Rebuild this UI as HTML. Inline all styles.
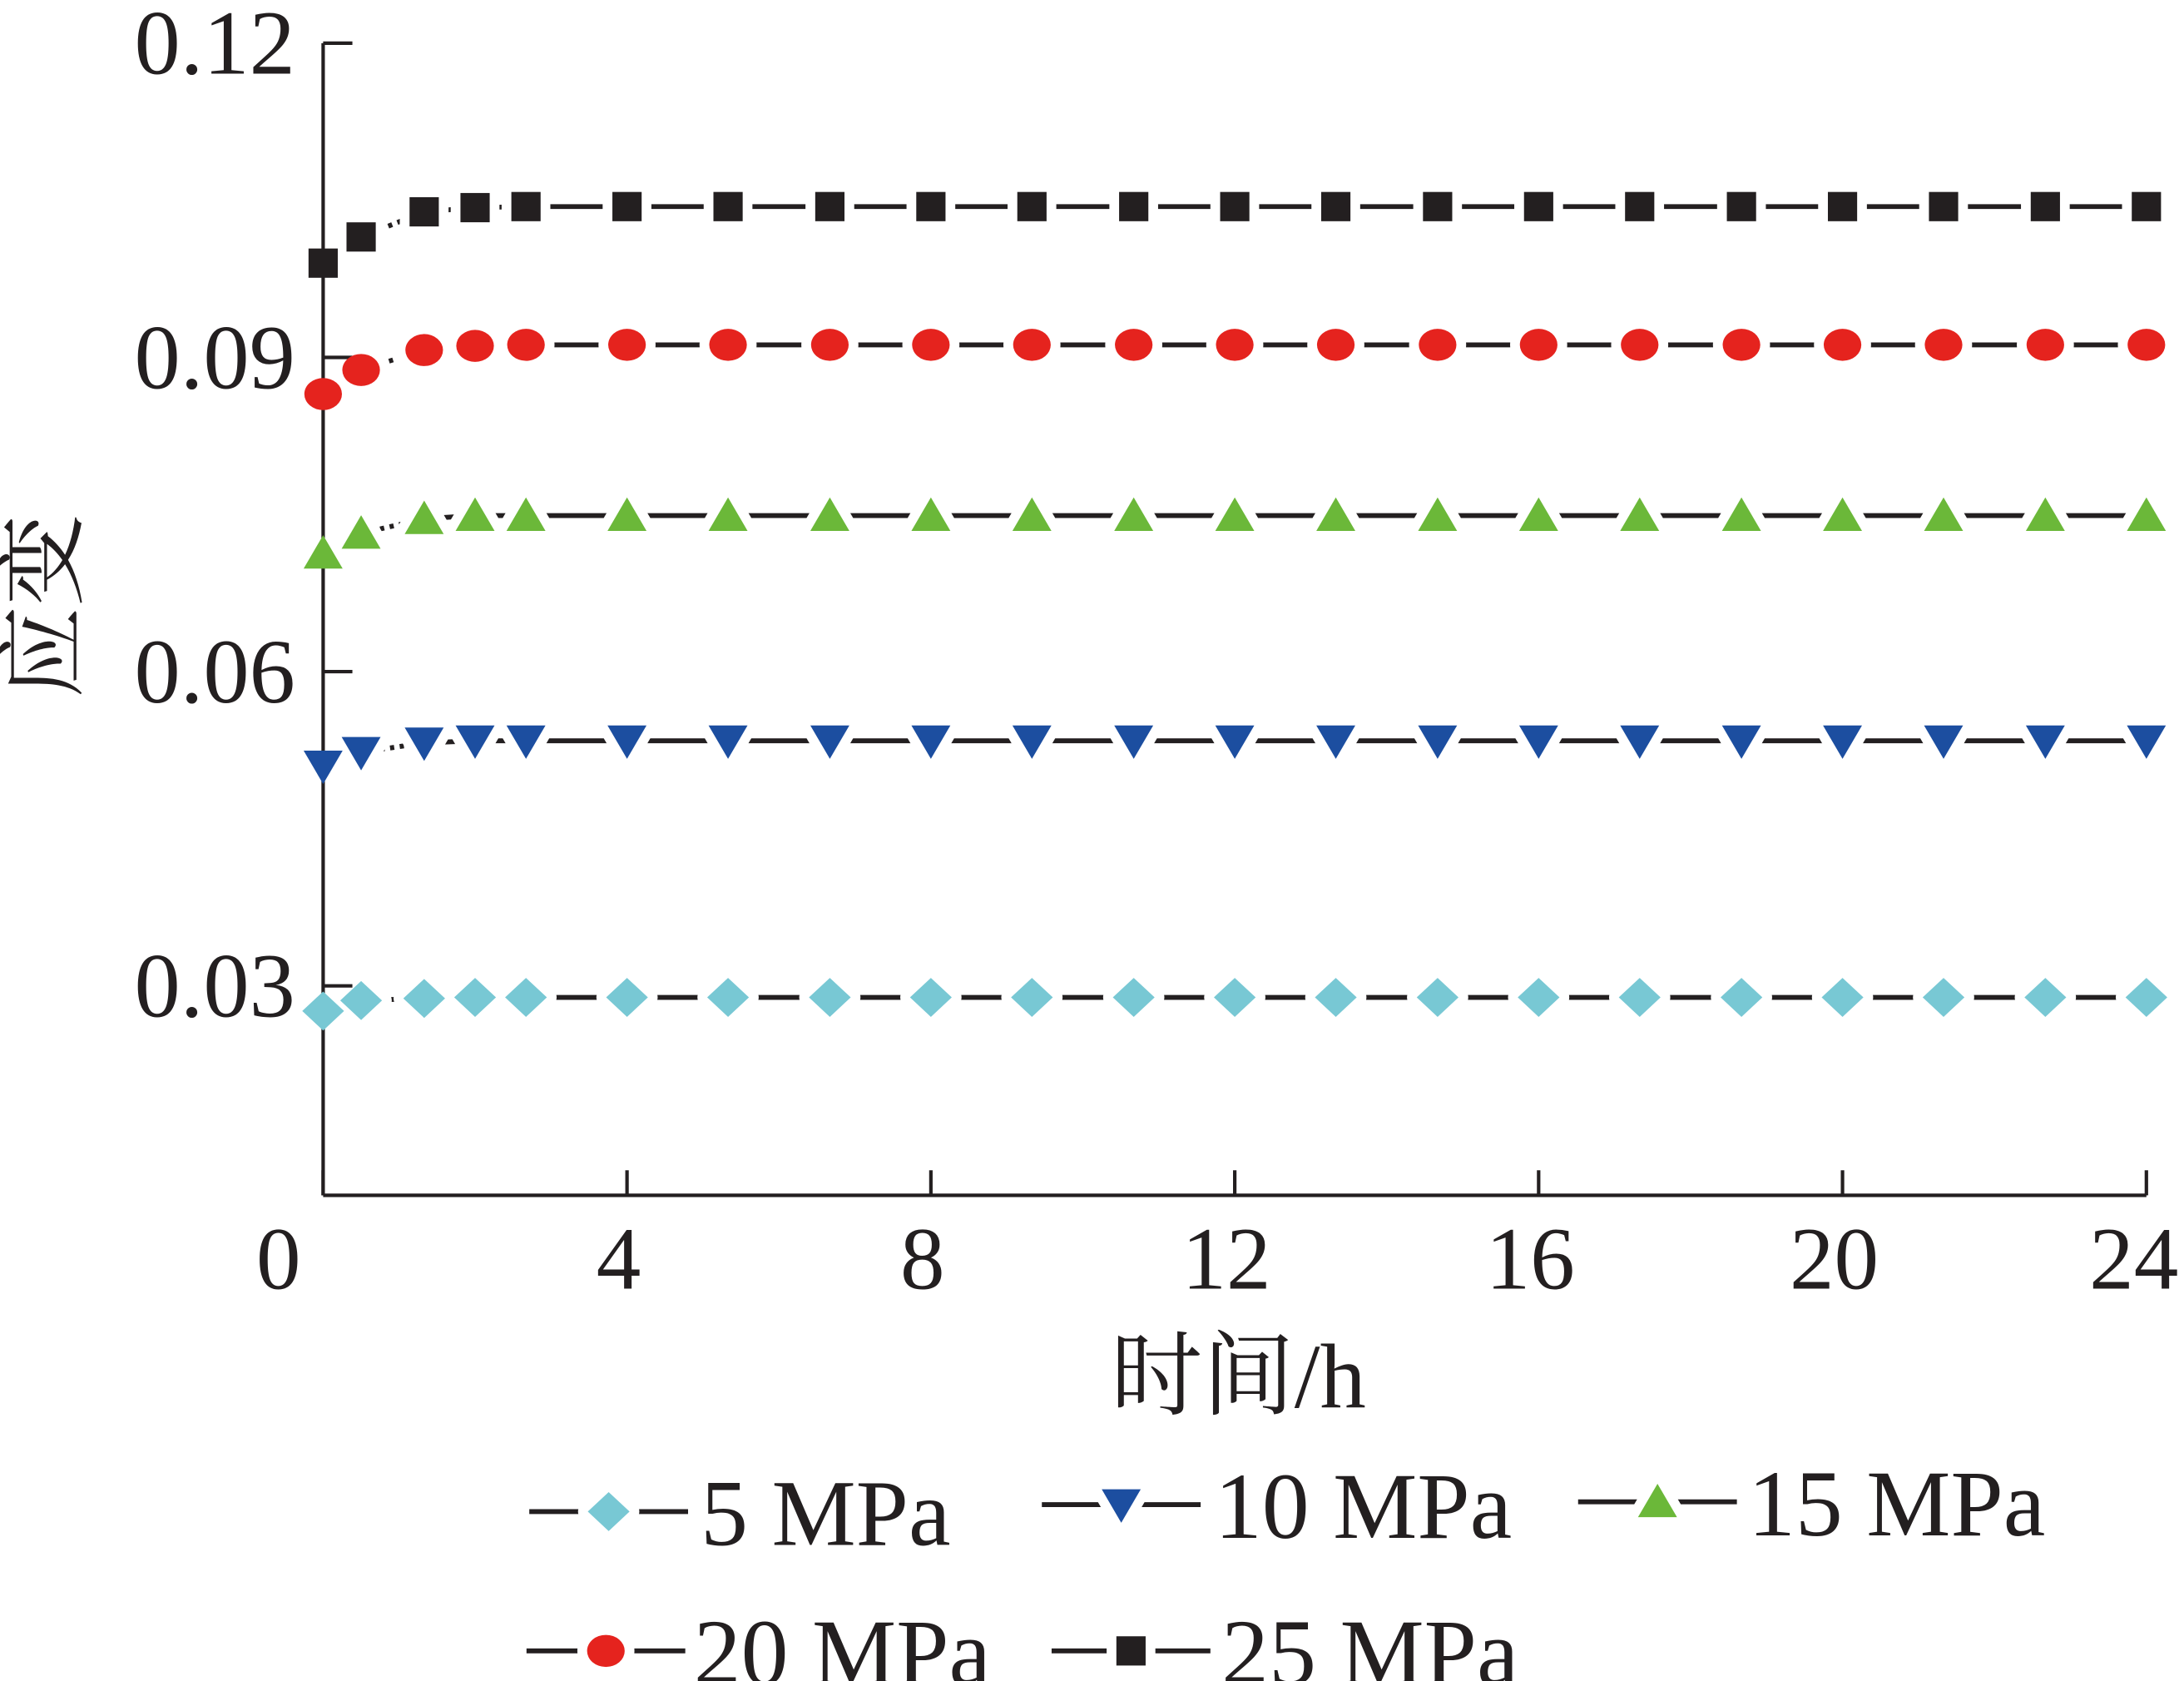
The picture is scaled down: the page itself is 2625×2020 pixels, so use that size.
<!DOCTYPE html>
<html><head><meta charset="utf-8"><style>
html,body{margin:0;padding:0;background:#fff;}
svg{display:block;}
text{font-family:"Liberation Serif","Noto Serif CJK SC",serif;fill:#231f20;}
</style></head><body>
<svg id="chart" width="2625" height="2020" viewBox="0 0 1568 1206.6" preserveAspectRatio="none" xmlns="http://www.w3.org/2000/svg">
<g id="lines"></g>
<g id="halos"></g>
<g id="axes"></g>
<g id="series"></g>
<text x="38" y="435" font-size="66" text-anchor="middle" transform="rotate(-90 38 435)" dominant-baseline="middle">应变</text>
<text x="889" y="1010" font-size="66" text-anchor="middle">时间/h</text>
<g id="legend"></g>
</svg>
<script>
const times=[0,0.5,1.33,2,2.67,4,5.33,6.67,8,9.33,10.67,12,13.33,14.67,16,17.33,18.67,20,21.33,22.67,24];
const s5=[0.0276,0.0286,0.0288,0.0289,0.0289,0.0289,0.0289,0.0289,0.0289,0.0289,0.0289,0.0289,0.0289,0.0289,0.0289,0.0289,0.0289,0.0289,0.0289,0.0289,0.0289];
const s10=[0.0510,0.0523,0.0532,0.0534,0.0534,0.0534,0.0534,0.0534,0.0534,0.0534,0.0534,0.0534,0.0534,0.0534,0.0534,0.0534,0.0534,0.0534,0.0534,0.0534,0.0534];
const s15=[0.0713,0.0732,0.0746,0.0749,0.0749,0.0749,0.0749,0.0749,0.0749,0.0749,0.0749,0.0749,0.0749,0.0749,0.0749,0.0749,0.0749,0.0749,0.0749,0.0749,0.0749];
const s20=[0.0865,0.0888,0.0907,0.0911,0.0912,0.0912,0.0912,0.0912,0.0912,0.0912,0.0912,0.0912,0.0912,0.0912,0.0912,0.0912,0.0912,0.0912,0.0912,0.0912,0.0912];
const s25=[0.0990,0.1015,0.1039,0.1043,0.1044,0.1044,0.1044,0.1044,0.1044,0.1044,0.1044,0.1044,0.1044,0.1044,0.1044,0.1044,0.1044,0.1044,0.1044,0.1044,0.1044];
const xTicks=[0,4,8,12,16,20,24];
const yTicks=[0.03,0.06,0.09,0.12];
const yTickLabels=["0.03","0.06","0.09","0.12"];
const seriesNames=["5 MPa","10 MPa","15 MPa","20 MPa","25 MPa"];

const NS="http://www.w3.org/2000/svg";
const X=t=>232+(t/24)*(1541-232);
const Y=v=>858-(v-0.01)/0.11*(858-31);
function mk(tag,attrs,parent){const e=document.createElementNS(NS,tag);for(const k in attrs)e.setAttribute(k,attrs[k]);parent.appendChild(e);return e;}
const axes=document.getElementById('axes');
let e;
e=mk('line',{x1:232,y1:31,x2:232,y2:858,stroke:'#231f20','stroke-width':2.5},axes);


e=mk('line',{x1:232,y1:858,x2:1541,y2:858,stroke:'#231f20','stroke-width':2.5},axes);


yTicks.forEach((v,i)=>{
  e=mk('line',{x1:232,y1:Y(v),x2:253,y2:Y(v),stroke:'#231f20','stroke-width':2.5},axes);
  
  
  e=mk('text',{x:212,y:Y(v)+22,'font-size':66,'text-anchor':'end'},axes);
  e.textContent=yTickLabels[i];
  
  
});
xTicks.forEach(t=>{
  e=mk('line',{x1:X(t),y1:858,x2:X(t),y2:840,stroke:'#231f20','stroke-width':2.5},axes);
  
  
  let lx=X(t)-6; if(t===0) lx=200; if(t===24) lx=1532;
  e=mk('text',{x:lx,y:925,'font-size':64,'text-anchor':'middle'},axes);
  e.textContent=String(t);
  
  
});

const styles=[
 {data:s5,color:'#78c8d4',shape:'diamond'},
 {data:s10,color:'#1c4ea0',shape:'down'},
 {data:s15,color:'#6bb839',shape:'up'},
 {data:s20,color:'#e5231e',shape:'circle'},
 {data:s25,color:'#231f20',shape:'square'}];
function marker(shape,cx,cy,color,parent,halo){
  let m;
  if(shape==='diamond') m=mk('polygon',{points:`${cx},${cy-14} ${cx+15},${cy} ${cx},${cy+14} ${cx-15},${cy}`},parent);
  else if(shape==='down') m=mk('polygon',{points:`${cx-14},${cy-11} ${cx+14},${cy-11} ${cx},${cy+13}`},parent);
  else if(shape==='up') m=mk('polygon',{points:`${cx-14},${cy+11} ${cx+14},${cy+11} ${cx},${cy-13}`},parent);
  else if(shape==='circle') m=mk('ellipse',{cx:cx,cy:cy,rx:13.5,ry:11.5},parent);
  else m=mk('rect',{x:cx-10.5,y:cy-10.5,width:21,height:21},parent);
  if(halo){
    m.setAttribute('fill','#fff');
    m.setAttribute('stroke','#fff');
    m.setAttribute('stroke-width','14');
    m.setAttribute('stroke-linejoin','round');
  } else {
    m.setAttribute('fill',color);
  }
  return m;
}
const lineG=document.getElementById('lines');
const haloG=document.getElementById('halos');
const sg=document.getElementById('series');
styles.forEach((s,si)=>{
  const g=mk('g',{},sg);
  
  
  for(let i=0;i<times.length-1;i++){
    const a={x1:X(times[i]),y1:Y(s.data[i]),x2:X(times[i+1]),y2:Y(s.data[i+1]),stroke:'#231f20','stroke-width':3.5};
    if(i<2) a['stroke-dasharray']='3 4';
    e=mk('line',a,lineG);
    
    
  }
  times.forEach((t,i)=>{
    e=marker(s.shape,X(t),Y(s.data[i]),s.color,haloG,true);
    
    
    e=marker(s.shape,X(t),Y(s.data[i]),s.color,g,false);
    
    
  });
});

const lg=document.getElementById('legend');
const legPos=[[380,1085,503],[748,1080,872],[1133,1078,1255],[378,1185,498],[755,1185,877]];
styles.forEach((s,i)=>{
  const [lx,ly,tx]=legPos[i];
  const g=mk('g',{},lg);
  
  
  e=mk('line',{x1:lx,y1:ly,x2:lx+114,y2:ly,stroke:'#231f20','stroke-width':3.5},g);
  
  
  e=marker(s.shape,lx+57,ly,s.color,g,true);
  
  
  e=marker(s.shape,lx+57,ly,s.color,g,false);
  
  
  e=mk('text',{x:tx,y:ly+24,'font-size':68},g);
  e.textContent=seriesNames[i];
  
  
});
</script>
</body></html>
